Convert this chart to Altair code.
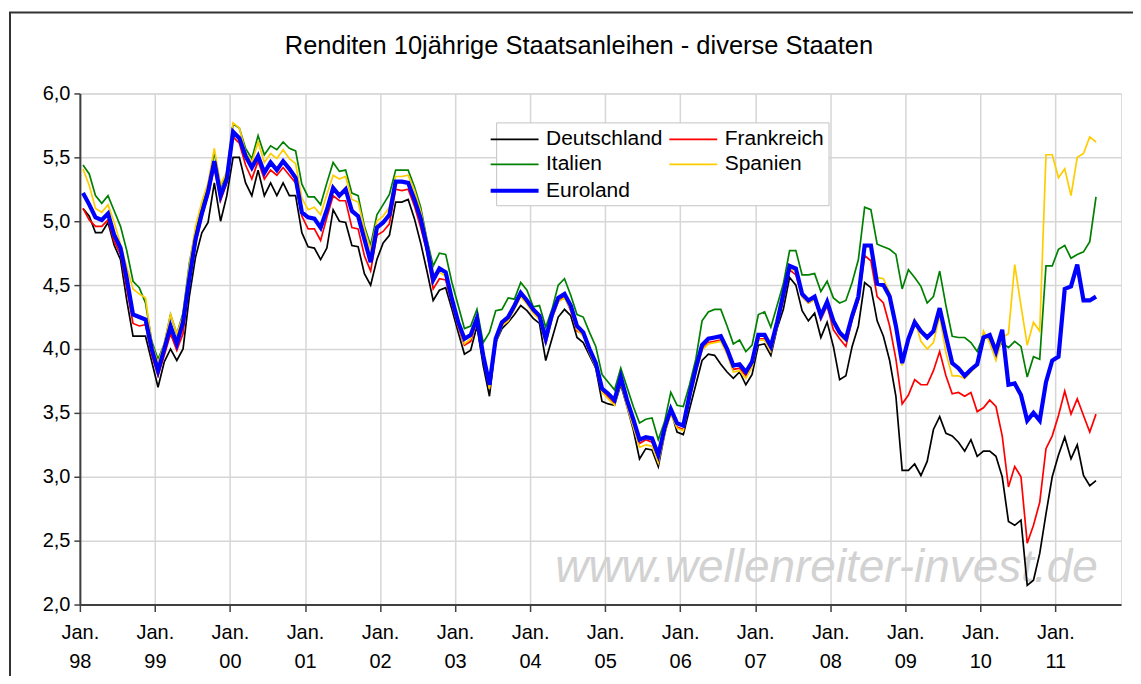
import json
import altair as alt
import pandas as pd

# ---------------- data ----------------
year_labels = ["98", "99", "00", "01", "02", "03", "04", "05", "06", "07", "08", "09", "10", "11"]
series_names = ["Deutschland", "Frankreich", "Italien", "Spanien", "Euroland"]
series_colors = ["#000000", "#FF0000", "#008000", "#FFCC00", "#0000FF"]
series_widths = [1.7, 1.7, 1.7, 1.7, 4.2]
# legend fills column by column: this order gives rows D|F, I|S, E
legend_order = ["Deutschland", "Italien", "Euroland", "Frankreich", "Spanien"]

# monthly values, Jan 1998 .. Jul 2011
deutschland = [
    5.10, 5.04, 4.91, 4.91, 4.99, 4.81, 4.70, 4.38, 4.10, 4.10, 4.10, 3.90,
    3.70, 3.90, 4.00, 3.91, 4.00, 4.41, 4.72, 4.91, 4.99, 5.30, 5.00, 5.20,
    5.50, 5.50, 5.30, 5.20, 5.40, 5.20, 5.30, 5.20, 5.30, 5.20, 5.20, 4.91,
    4.80, 4.79, 4.70, 4.79, 5.09, 5.00, 4.99, 4.81, 4.80, 4.59, 4.50, 4.70,
    4.83, 4.89, 5.15, 5.15, 5.17, 5.02, 4.83, 4.61, 4.38, 4.46, 4.48, 4.31,
    4.13, 3.96, 3.99, 4.18, 3.87, 3.63, 4.05, 4.16, 4.21, 4.27, 4.34, 4.30,
    4.24, 4.20, 3.91, 4.08, 4.25, 4.31, 4.26, 4.09, 4.05, 3.95, 3.85, 3.59,
    3.57, 3.56, 3.72, 3.55, 3.37, 3.14, 3.22, 3.21, 3.08, 3.33, 3.52, 3.35,
    3.33, 3.53, 3.72, 3.91, 3.96, 3.95, 3.88, 3.82, 3.77, 3.82, 3.72, 3.80,
    4.03, 4.04, 3.95, 4.16, 4.31, 4.56, 4.50, 4.30, 4.22, 4.28, 4.09, 4.21,
    4.02, 3.76, 3.79, 4.02, 4.18, 4.52, 4.48, 4.22, 4.10, 3.91, 3.63, 3.05,
    3.05, 3.10, 3.01, 3.12, 3.37, 3.47, 3.34, 3.32, 3.27, 3.20, 3.29, 3.16,
    3.20, 3.20, 3.16, 3.00, 2.65, 2.62, 2.66, 2.15, 2.19, 2.40, 2.71, 3.00,
    3.17, 3.31, 3.14, 3.25, 3.01, 2.93, 2.97,
]
frankreich = [
    5.10, 5.01, 4.96, 4.96, 5.01, 4.84, 4.74, 4.47, 4.20, 4.18, 4.19, 3.95,
    3.79, 3.95, 4.12, 3.99, 4.12, 4.52, 4.82, 5.03, 5.20, 5.42, 5.16, 5.30,
    5.66, 5.61, 5.44, 5.33, 5.47, 5.33, 5.40, 5.36, 5.42, 5.36, 5.30, 5.04,
    4.94, 4.94, 4.85, 5.03, 5.20, 5.16, 5.16, 4.95, 4.94, 4.73, 4.61, 4.89,
    4.92, 4.98, 5.25, 5.24, 5.25, 5.12, 4.95, 4.76, 4.47, 4.55, 4.54, 4.35,
    4.17, 4.03, 4.06, 4.22, 3.93, 3.70, 4.06, 4.19, 4.23, 4.32, 4.42, 4.36,
    4.29, 4.24, 4.04, 4.24, 4.37, 4.41, 4.30, 4.14, 4.12, 3.98, 3.87, 3.67,
    3.62, 3.57, 3.75, 3.57, 3.42, 3.26, 3.29, 3.27, 3.14, 3.35, 3.50, 3.39,
    3.37, 3.61, 3.82, 4.00, 4.05, 4.06, 4.07, 3.97, 3.84, 3.85, 3.79, 3.87,
    4.08, 4.08, 3.99, 4.18, 4.38, 4.62, 4.58, 4.41, 4.36, 4.39, 4.23, 4.34,
    4.15, 4.08, 4.02, 4.23, 4.38, 4.73, 4.69, 4.41, 4.36, 4.18, 3.92, 3.57,
    3.64, 3.76, 3.72, 3.72, 3.83, 3.98, 3.79, 3.65, 3.66, 3.63, 3.66, 3.51,
    3.54, 3.60, 3.55, 3.32, 2.92, 3.08, 3.00, 2.48, 2.62, 2.80, 3.22, 3.32,
    3.48, 3.67, 3.49, 3.61, 3.48, 3.35, 3.49,
]
italien = [
    5.44, 5.37, 5.20, 5.14, 5.20, 5.08, 4.96, 4.77, 4.53, 4.48, 4.36, 4.06,
    3.92, 4.04, 4.27, 4.12, 4.28, 4.67, 4.93, 5.11, 5.28, 5.54, 5.27, 5.37,
    5.76, 5.73, 5.57, 5.49, 5.67, 5.52, 5.59, 5.56, 5.62, 5.57, 5.55, 5.29,
    5.19, 5.19, 5.13, 5.30, 5.46, 5.39, 5.40, 5.22, 5.20, 4.96, 4.81, 5.05,
    5.13, 5.21, 5.40, 5.40, 5.40, 5.27, 5.11, 4.86, 4.65, 4.75, 4.74, 4.52,
    4.34, 4.16, 4.18, 4.31, 4.05, 4.13, 4.30, 4.31, 4.40, 4.39, 4.52, 4.46,
    4.33, 4.34, 4.17, 4.31, 4.50, 4.55, 4.42, 4.27, 4.25, 4.13, 4.02, 3.80,
    3.74, 3.68, 3.85, 3.70, 3.55, 3.42, 3.45, 3.46, 3.29, 3.43, 3.66, 3.56,
    3.55, 3.72, 3.92, 4.22, 4.29, 4.31, 4.31, 4.18, 4.04, 4.07, 3.98, 4.03,
    4.27, 4.29, 4.17, 4.34, 4.51, 4.77, 4.77, 4.58, 4.58, 4.59, 4.45, 4.53,
    4.40, 4.36, 4.38, 4.52, 4.70, 5.11, 5.09, 4.82, 4.80, 4.78, 4.74, 4.47,
    4.62, 4.56, 4.49, 4.36, 4.41, 4.61, 4.34, 4.10, 4.09, 4.09, 4.05, 3.98,
    4.11, 4.08, 3.98, 4.05, 4.01, 4.06, 4.02, 3.78, 3.94, 3.92, 4.65, 4.65,
    4.78, 4.81, 4.71, 4.74, 4.76, 4.84, 5.19,
]
spanien = [
    5.41, 5.28, 5.10, 5.07, 5.13, 4.99, 4.82, 4.64, 4.47, 4.43, 4.40, 4.04,
    3.89, 4.04, 4.27, 4.12, 4.26, 4.65, 4.96, 5.15, 5.30, 5.57, 5.28, 5.39,
    5.77, 5.73, 5.54, 5.46, 5.62, 5.46, 5.53, 5.49, 5.56, 5.49, 5.45, 5.18,
    5.09, 5.11, 5.05, 5.21, 5.36, 5.33, 5.35, 5.17, 5.15, 4.94, 4.78, 5.00,
    5.04, 5.11, 5.35, 5.35, 5.36, 5.24, 5.08, 4.85, 4.59, 4.60, 4.57, 4.36,
    4.18, 4.04, 4.08, 4.21, 3.92, 3.69, 4.05, 4.18, 4.22, 4.31, 4.41, 4.35,
    4.28, 4.23, 4.05, 4.24, 4.37, 4.40, 4.31, 4.15, 4.10, 3.97, 3.86, 3.66,
    3.61, 3.56, 3.74, 3.55, 3.39, 3.23, 3.25, 3.24, 3.11, 3.33, 3.49, 3.38,
    3.36, 3.60, 3.81, 3.99, 4.04, 4.05, 4.06, 3.96, 3.82, 3.83, 3.77, 3.86,
    4.07, 4.07, 3.98, 4.17, 4.41, 4.63, 4.61, 4.41, 4.36, 4.39, 4.24, 4.35,
    4.20, 4.11, 4.06, 4.24, 4.39, 4.80, 4.80, 4.56, 4.55, 4.44, 4.18, 3.87,
    4.10, 4.23, 4.06, 4.00, 4.05, 4.26, 3.97, 3.79, 3.79, 3.77, 3.82, 3.87,
    4.14, 4.05, 3.91, 4.09, 4.12, 4.66, 4.34, 4.03, 4.21, 4.14, 5.52, 5.52,
    5.34, 5.41, 5.20, 5.50, 5.53, 5.66, 5.62,
]
euroland = [
    5.22, 5.13, 5.03, 5.01, 5.06, 4.89, 4.79, 4.55, 4.27, 4.25, 4.23, 4.00,
    3.83, 4.00, 4.18, 4.04, 4.21, 4.55, 4.86, 5.06, 5.23, 5.47, 5.20, 5.33,
    5.70, 5.65, 5.51, 5.42, 5.51, 5.38, 5.46, 5.40, 5.47, 5.41, 5.34, 5.07,
    5.03, 5.02, 4.95, 5.09, 5.26, 5.20, 5.25, 5.08, 5.04, 4.86, 4.68, 4.95,
    4.99, 5.05, 5.31, 5.31, 5.30, 5.17, 5.02, 4.80, 4.54, 4.63, 4.60, 4.39,
    4.21, 4.08, 4.11, 4.24, 3.95, 3.72, 4.08, 4.21, 4.25, 4.34, 4.44, 4.38,
    4.31, 4.26, 4.08, 4.27, 4.40, 4.43, 4.34, 4.18, 4.13, 4.00, 3.89, 3.69,
    3.65, 3.60, 3.78, 3.60, 3.45, 3.29, 3.31, 3.30, 3.17, 3.38, 3.53, 3.42,
    3.40, 3.64, 3.85, 4.03, 4.08, 4.09, 4.10, 4.00, 3.87, 3.88, 3.82, 3.90,
    4.11, 4.11, 4.02, 4.21, 4.43, 4.65, 4.63, 4.43, 4.38, 4.41, 4.26, 4.37,
    4.22, 4.13, 4.08, 4.26, 4.41, 4.81, 4.81, 4.51, 4.50, 4.41, 4.18, 3.89,
    4.08, 4.21, 4.14, 4.09, 4.14, 4.32, 4.10, 3.89, 3.85, 3.79, 3.84, 3.88,
    4.09, 4.11, 3.98, 4.15, 3.72, 3.73, 3.64, 3.44, 3.50, 3.44, 3.74, 3.91,
    3.94, 4.47, 4.49, 4.66, 4.38, 4.38, 4.41,
]
y_ticks = [2.0, 2.5, 3.0, 3.5, 4.0, 4.5, 5.0, 5.5, 6.0]
title_text = "Renditen 10jährige Staatsanleihen - diverse Staaten"
watermark_text = "www.wellenreiter-invest.de"

# ---------------- long table ----------------
rows = []
for name, vals in zip(series_names, [deutschland, frankreich, italien, spanien, euroland]):
    for i, v in enumerate(vals):
        rows.append({"Monat": i + 0.5, "Rendite": v, "Land": name})
df = pd.DataFrame(rows)

color_of = dict(zip(series_names, series_colors))
width_of = dict(zip(series_names, series_widths))
legend_colors = [color_of[n] for n in legend_order]
legend_widths = [width_of[n] for n in legend_order]

x_tick_values = [12 * k for k in range(len(year_labels))]
x_label_expr = "['Jan.', " + json.dumps(year_labels) + "[round(datum.value / 12)]]"
FONT = "Liberation Sans"

x_enc = alt.X(
    "Monat:Q",
    scale=alt.Scale(domain=[0, 166.5], nice=False, zero=False),
    axis=alt.Axis(
        values=x_tick_values, labelExpr=x_label_expr, title=None,
        grid=True, gridColor="#d6d6d6", gridWidth=1.5,
        tickSize=7, tickColor="#404040", tickWidth=1.5,
        domainColor="#404040", domainWidth=2,
        labelFont=FONT, labelFontSize=20, labelColor="black",
        labelPadding=11, labelLineHeight=29, labelAlign="center",
        labelBaseline="top", labelFlush=False, labelOverlap=False,
    ),
)
y_enc = alt.Y(
    "Rendite:Q",
    scale=alt.Scale(domain=[2, 6], nice=False, zero=False),
    axis=alt.Axis(
        values=y_ticks, labelExpr="replace(format(datum.value, '.1f'), '.', ',')",
        title=None, grid=True, gridColor="#d6d6d6", gridWidth=1.5,
        tickSize=6, tickColor="#404040", tickWidth=1.5,
        domainColor="#404040", domainWidth=2,
        labelFont=FONT, labelFontSize=20, labelColor="black", labelPadding=4,
    ),
)

legend = alt.Legend(
    title=None, orient="none", legendX=417, legendY=29, columns=2,
    symbolType="M-2,0L2,0", symbolSize=576, labelFont=FONT, labelFontSize=21,
    labelColor="black", labelOffset=17, padding=4, rowPadding=2, columnPadding=3,
    strokeColor="#c4c4c4", fillColor="white", labelLimit=300,
    labelExpr="indexof(['Frankreich', 'Spanien'], datum.label) >= 0 ? datum.label + '\u2007\u2007\u2007' : datum.label",
)

lines = alt.Chart(df).mark_line(strokeJoin="miter").encode(
    x=x_enc,
    y=y_enc,
    color=alt.Color("Land:N", scale=alt.Scale(domain=legend_order, range=legend_colors), legend=legend),
    strokeWidth=alt.StrokeWidth(
        "Land:N",
        scale=alt.Scale(type="ordinal", domain=legend_order, range=legend_widths),
        legend=legend,
    ),
    detail="Land:N",
)

wm = alt.Chart(pd.DataFrame({"wm": [watermark_text]})).mark_text(
    font=FONT, fontSize=46, fontStyle="italic", color="#d2d2d2",
    align="center", baseline="alphabetic",
).encode(x=alt.value(748), y=alt.value(489), text="wm:N")

title = alt.Chart(pd.DataFrame({"t": [title_text]})).mark_text(
    font=FONT, fontSize=25.5, color="black", align="center", baseline="middle",
).encode(x=alt.value(500), y=alt.value(-48), text="t:N")

frame = alt.Chart(pd.DataFrame({"f": [0]})).mark_rect(
    fill=None, stroke="#333333", strokeWidth=2
).encode(x=alt.value(-70), y=alt.value(-81), x2=alt.value(1200), y2=alt.value(700))

chart = alt.layer(frame, wm, title, lines).properties(
    width=1043, height=512,
    autosize=alt.AutoSizeParams(type="none"),
    padding={"left": 72, "top": 85, "right": 12, "bottom": 71},
).configure_view(stroke="#8c8c8c", strokeWidth=2).configure(background="white")

chart.save("out.html", embed_options={"renderer": "svg", "actions": False})
